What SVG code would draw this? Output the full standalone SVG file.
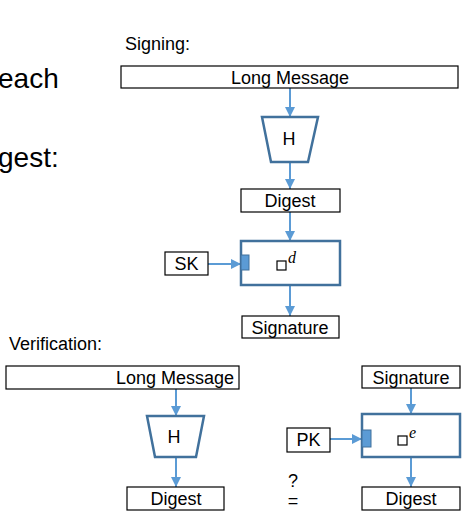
<svg xmlns="http://www.w3.org/2000/svg" width="474" height="515" viewBox="0 0 474 515">
<defs>
<marker id="ah" viewBox="0 0 10 10" refX="10" refY="5" markerWidth="5" markerHeight="5" orient="auto" markerUnits="strokeWidth">
<path d="M0,0 L10,5 L0,10 z" fill="#5B9BD5"/>
</marker>
<style>
text{font-family:"Liberation Sans",Arial,sans-serif;fill:#000}
.lbl{font-size:18px;text-anchor:middle}
.hdr{font-size:18px}
.big{font-size:28px}
.box{fill:#fff;stroke:#000;stroke-width:1.2}
.op{fill:#fff;stroke:#41719C;stroke-width:2.5}
.port{fill:#5B9BD5;stroke:#41719C;stroke-width:1}
.sq{fill:none;stroke:#000;stroke-width:1.2}
.ar{stroke:#5B9BD5;stroke-width:2;fill:none;marker-end:url(#ah)}
.mi{font-family:"Liberation Serif",serif;font-style:italic;font-size:16px}
</style>
</defs>
<rect width="474" height="515" fill="#fff"/>
<text class="big" x="-2" y="88">each</text>
<text class="big" x="-2" y="167">gest:</text>
<text class="hdr" x="125" y="50">Signing:</text>
<text class="hdr" x="9" y="350">Verification:</text>

<g id="connectors">
<line class="ar" x1="290" y1="88" x2="290" y2="117"/>
<line class="ar" x1="290" y1="162" x2="290" y2="189"/>
<line class="ar" x1="290" y1="212" x2="290" y2="241"/>
<line class="ar" x1="208" y1="264" x2="241" y2="264"/>
<line class="ar" x1="290" y1="285" x2="290" y2="316"/>
<line class="ar" x1="176" y1="389" x2="176" y2="416"/>
<line class="ar" x1="176" y1="457" x2="176" y2="487"/>
<line class="ar" x1="411" y1="388" x2="411" y2="414"/>
<line class="ar" x1="330" y1="439" x2="362" y2="439"/>
<line class="ar" x1="411" y1="457" x2="411" y2="487"/>
</g>

<g id="s-msg"><rect class="box" x="121" y="66" width="337" height="22"/><text class="lbl" x="290" y="83.5">Long Message</text></g>
<g id="s-h"><path class="op" d="M262,117 L318,117 L308,162 L271,162 Z"/><text class="lbl" x="289" y="145">H</text></g>
<g id="s-digest"><rect class="box" x="241" y="189" width="99" height="23"/><text class="lbl" x="290" y="206.5">Digest</text></g>
<g id="s-sign"><rect class="op" x="241" y="241" width="99" height="44"/><rect class="port" x="241" y="255" width="8" height="15"/><rect class="sq" x="277" y="261" width="9" height="9"/><text class="mi" x="288" y="263">d</text></g>
<g id="s-sk"><rect class="box" x="165" y="252" width="43" height="23"/><text class="lbl" x="186.5" y="270">SK</text></g>
<g id="s-sig"><rect class="box" x="242" y="316" width="97" height="22"/><text class="lbl" x="290" y="333.5">Signature</text></g>

<g id="v-msg"><rect class="box" x="6" y="366" width="233" height="23"/><text class="lbl" x="175" y="384">Long Message</text></g>
<g id="v-h"><path class="op" d="M147,416 L204,416 L196,457 L155,457 Z"/><text class="lbl" x="174" y="443">H</text></g>
<g id="v-digest1"><rect class="box" x="127" y="487" width="97" height="23"/><text class="lbl" x="176" y="504.5">Digest</text></g>
<g id="v-sig"><rect class="box" x="362" y="366" width="98" height="22"/><text class="lbl" x="411" y="383.5">Signature</text></g>
<g id="v-verify"><rect class="op" x="362" y="414" width="98" height="43"/><rect class="port" x="362" y="430" width="9" height="17"/><rect class="sq" x="398" y="436" width="9" height="9"/><text class="mi" x="409" y="438">e</text></g>
<g id="v-pk"><rect class="box" x="287" y="428" width="43" height="24"/><text class="lbl" x="308.5" y="446">PK</text></g>
<g id="v-digest2"><rect class="box" x="362" y="487" width="98" height="23"/><text class="lbl" x="411" y="504.5">Digest</text></g>
<g id="eq"><text class="lbl" x="293" y="487">?</text><text class="lbl" x="293" y="507">=</text></g>
</svg>
